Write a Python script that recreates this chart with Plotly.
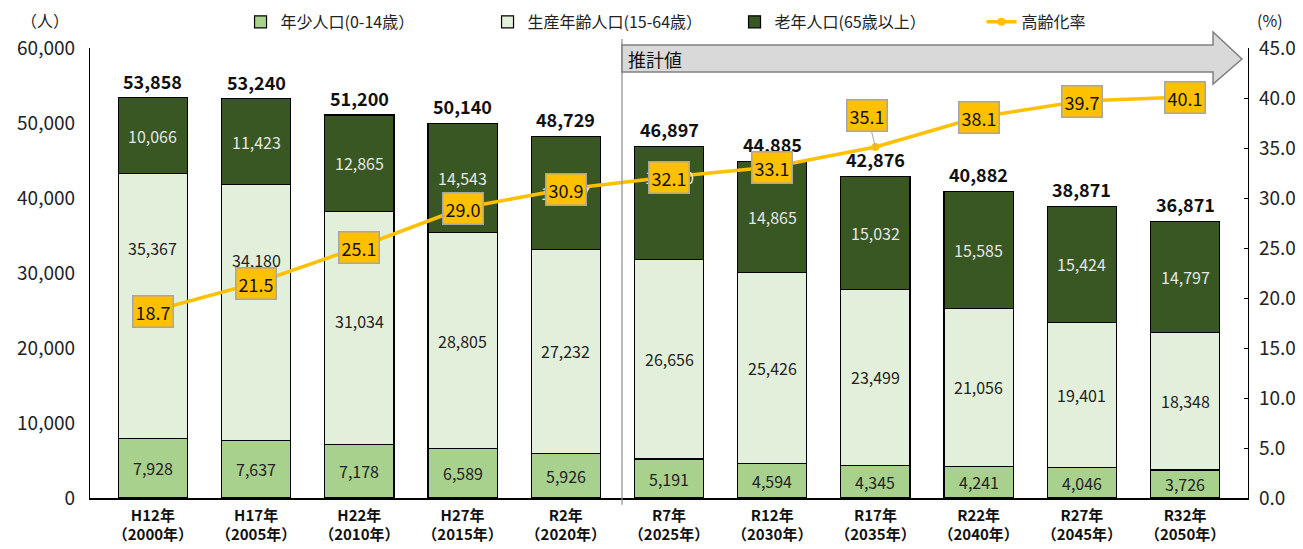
import plotly.graph_objects as go

categories = ["H12年<br>（2000年）", "H17年<br>（2005年）", "H22年<br>（2010年）", "H27年<br>（2015年）",
              "R2年<br>（2020年）", "R7年<br>（2025年）", "R12年<br>（2030年）", "R17年<br>（2035年）",
              "R22年<br>（2040年）", "R27年<br>（2045年）", "R32年<br>（2050年）"]
youth = [7928, 7637, 7178, 6589, 5926, 5191, 4594, 4345, 4241, 4046, 3726]
working = [35367, 34180, 31034, 28805, 27232, 26656, 25426, 23499, 21056, 19401, 18348]
elderly = [10066, 11423, 12865, 14543, 15057, 15050, 14865, 15032, 15585, 15424, 14797]
totals = [53858, 53240, 51200, 50140, 48729, 46897, 44885, 42876, 40882, 38871, 36871]
aging_rate = [18.7, 21.5, 25.1, 29.0, 30.9, 32.1, 33.1, 35.1, 38.1, 39.7, 40.1]

FONT = "Noto Sans CJK JP"
C_YOUTH = "#a9d18e"
C_WORK = "#e2efda"
C_OLD = "#385723"
C_LINE = "#ffc000"

fig = go.Figure()
line_style = dict(color="#000000", width=1.2)
fig.add_trace(go.Bar(name="年少人口(0-14歳）", x=categories, y=youth, marker=dict(color=C_YOUTH, line=line_style)))
fig.add_trace(go.Bar(name="生産年齢人口(15-64歳）", x=categories, y=working, marker=dict(color=C_WORK, line=line_style)))
fig.add_trace(go.Bar(name="老年人口(65歳以上）", x=categories, y=elderly, marker=dict(color=C_OLD, line=line_style)))
fig.add_trace(go.Scatter(name="高齢化率", x=categories, y=aging_rate, yaxis="y2", mode="lines+markers",
                         line=dict(color=C_LINE, width=3.5), marker=dict(color=C_LINE, size=8)))

ann = []
work_shift = [58, 53, 7, 0, 0, 0, 0, 0, 0, 0, 0]
old_shift = [0, 0, 0, 0, 0, 26, 0, 0, 0, 0, 0]
for i, c in enumerate(categories):
    y0 = youth[i]
    y1 = y0 + working[i]
    y2 = y1 + elderly[i]
    ann.append(dict(x=c, y=y0 / 2, text=f"{youth[i]:,}", showarrow=False,
                    font=dict(family=FONT, size=16, color="#222222")))
    ann.append(dict(x=c, y=(y0 + y1) / 2, yshift=work_shift[i], text=f"{working[i]:,}", showarrow=False,
                    font=dict(family=FONT, size=16, color="#222222")))
    ann.append(dict(x=c, y=(y1 + y2) / 2, yshift=old_shift[i], text=f"{elderly[i]:,}", showarrow=False,
                    font=dict(family=FONT, size=16, color="#e6e6e6")))
    ann.append(dict(x=c, y=y2, yanchor="bottom", yshift=2, text=f"<b>{totals[i]:,}</b>", showarrow=False,
                    font=dict(family=FONT, size=18, color="#111111")))

for i, c in enumerate(categories):
    d = dict(x=c, y=aging_rate[i], yref="y2", text=f"{aging_rate[i]:.1f}",
             font=dict(family=FONT, size=18, color="#111111"),
             bgcolor=C_LINE, bordercolor="#a6a6a6", borderwidth=1.5, borderpad=2)
    if i == 7:
        d.update(showarrow=True, ax=-8, ay=-32, arrowhead=0, arrowwidth=1, arrowcolor="#a6a6a6")
    else:
        d.update(showarrow=False)
    ann.append(d)

ann.append(dict(xref="paper", yref="paper", x=-0.039, y=1.062, xanchor="center", yanchor="middle",
                text="（人）", showarrow=False, font=dict(family=FONT, size=16, color="#222222")))
ann.append(dict(xref="paper", yref="paper", x=1.019, y=1.062, xanchor="center", yanchor="middle",
                text="(%)", showarrow=False, font=dict(family=FONT, size=16, color="#222222")))
ann.append(dict(xref="paper", yref="paper", x=0.4625, y=0.9756, xanchor="left", yanchor="middle",
                text="推計値", showarrow=False, font=dict(family=FONT, size=18, color="#111111")))

shapes = [
    dict(type="line", xref="paper", yref="paper", x0=0.4594, x1=0.4594, y0=-0.015, y1=1.02,
         line=dict(color="#8c8c8c", width=1.2)),
    dict(type="path", xref="paper", yref="paper",
         path="M 0.4594 1.0067 L 0.9698 1.0067 L 0.9698 1.0356 L 0.9948 0.9756 L 0.9698 0.92 L 0.9698 0.9467 L 0.4594 0.9467 Z",
         fillcolor="#d9d9d9", line=dict(color="#808080", width=1.5)),
]

fig.update_layout(
    barmode="stack", bargap=0.33,
    width=1295, height=541,
    margin=dict(l=82, r=55, t=40, b=51, autoexpand=False),
    plot_bgcolor="white", paper_bgcolor="white",
    font=dict(family=FONT, color="#222222"),
    legend=dict(orientation="h", x=0.13, y=1.058, xanchor="left", yanchor="middle",
                font=dict(family=FONT, size=16, color="#222222"), bgcolor="rgba(0,0,0,0)",
                traceorder="normal", itemwidth=30, entrywidthmode="pixels", entrywidth=202),
    xaxis=dict(type="category", showline=True, linecolor="#000000", linewidth=1.5, ticks="", automargin=False,
               ticklabelstandoff=3,
               tickfont=dict(family=FONT, size=15, color="#111111", weight="bold")),
    yaxis=dict(range=[0, 60000], dtick=10000, tickformat=",", showgrid=False, showline=True, automargin=False,
               linecolor="#000000", linewidth=1.2, ticks="", zeroline=False, ticklabelstandoff=10,
               tickfont=dict(family=FONT, size=19, color="#222222")),
    yaxis2=dict(range=[0, 45], dtick=5, tickformat=".1f", overlaying="y", side="right", showgrid=False,
                showline=True, linecolor="#000000", linewidth=1.2, ticks="inside", ticklen=4, automargin=False,
                tickcolor="#000000", zeroline=False, ticklabelstandoff=6,
                tickfont=dict(family=FONT, size=19, color="#222222")),
    annotations=ann,
    shapes=shapes,
)

fig.write_html("out.html")
